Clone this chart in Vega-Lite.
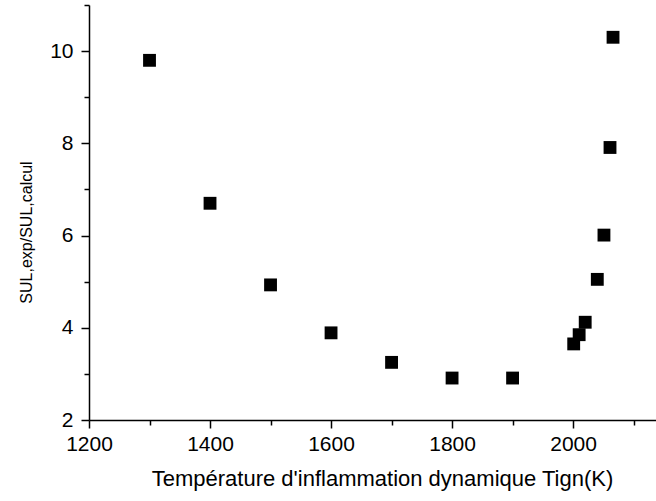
{
  "$schema": "https://vega.github.io/schema/vega-lite/v6.json",
  "width": 567,
  "height": 415,
  "autosize": {"type": "none"},
  "padding": {"left": 89, "top": 5, "right": 0, "bottom": 81},
  "background": "white",
  "config": {
    "view": {"stroke": null},
    "font": "Liberation Sans"
  },
  "data": {
    "values": [
      {"T": 1300, "ratio": 9.80},
      {"T": 1400, "ratio": 6.70},
      {"T": 1500, "ratio": 4.93},
      {"T": 1600, "ratio": 3.89},
      {"T": 1700, "ratio": 3.25},
      {"T": 1800, "ratio": 2.91},
      {"T": 1900, "ratio": 2.91},
      {"T": 2001, "ratio": 3.65},
      {"T": 2010, "ratio": 3.85},
      {"T": 2020, "ratio": 4.12},
      {"T": 2040, "ratio": 5.05},
      {"T": 2051, "ratio": 6.01},
      {"T": 2061, "ratio": 7.91},
      {"T": 2066, "ratio": 10.30}
    ]
  },
  "mark": {"type": "point", "shape": "square", "filled": true, "size": 165, "color": "black", "opacity": 1},
  "encoding": {
    "x": {
      "field": "T",
      "type": "quantitative",
      "scale": {"domain": [1200, 2137], "nice": false, "zero": false},
      "axis": {
        "title": "Température d'inflammation dynamique Tign(K)",
        "values": [1200, 1300, 1400, 1500, 1600, 1700, 1800, 1900, 2000, 2100],
        "labelExpr": "datum.value % 200 === 0 ? datum.label : ''",
        "format": "d",
        "grid": false,
        "domainColor": "black",
        "domainWidth": 1.5,
        "tickColor": "black",
        "tickWidth": 1.5,
        "tickSize": {"condition": {"test": "datum.value % 200 === 0", "value": 8}, "value": 5},
        "labelFontSize": 21,
        "labelColor": "black",
        "labelPadding": 5,
        "labelFlush": false,
        "titleFontSize": 22,
        "titleFontWeight": "normal",
        "titleColor": "black",
        "titlePadding": 14,
        "titleX": 293
      }
    },
    "y": {
      "field": "ratio",
      "type": "quantitative",
      "scale": {"domain": [2, 11], "nice": false, "zero": false},
      "axis": {
        "title": "SUL,exp/SUL,calcul",
        "values": [2, 3, 4, 5, 6, 7, 8, 9, 10, 11],
        "labelExpr": "datum.value % 2 === 0 ? datum.label : ''",
        "grid": false,
        "domainColor": "black",
        "domainWidth": 1.5,
        "tickColor": "black",
        "tickWidth": 1.5,
        "tickSize": {"condition": {"test": "datum.value % 2 === 0", "value": 8}, "value": 5},
        "labelFontSize": 21,
        "labelColor": "black",
        "labelPadding": 8,
        "labelFlush": false,
        "titleFontSize": 16,
        "titleFontWeight": "normal",
        "titleColor": "black",
        "titlePadding": 15,
        "titleY": 227
      }
    }
  }
}
